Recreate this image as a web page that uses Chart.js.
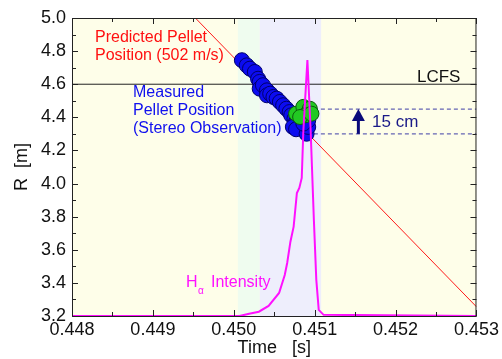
<!DOCTYPE html>
<html>
<head>
<meta charset="utf-8">
<script src="https://cdn.jsdelivr.net/npm/chart.js@4.4.1/dist/chart.umd.min.js"></script>
<style>
html,body{margin:0;padding:0;background:#fff;}
#wrap{width:502px;height:359px;}
</style>
</head>
<body>
<div id="wrap"><canvas id="c" width="502" height="359"></canvas></div>
<script>
// ---- data ----
const xTicks = [0.448, 0.449, 0.450, 0.451, 0.452, 0.453];
const yTicks = [3.2, 3.4, 3.6, 3.8, 4.0, 4.2, 4.4, 4.6, 4.8, 5.0];

const blueT = [0.45010,0.45016,0.45020,0.45026,0.45030,0.45032,0.45032,0.45036,0.45041,0.45041,0.45045,0.45049,0.45053,0.45057,0.45061,0.45065,0.45069,0.45071,0.45075,0.45077,0.45079,0.45084,0.45088,0.45073,0.45077,0.45090,0.45092,0.45092,0.45086];
const blueR = [4.745,4.714,4.694,4.674,4.633,4.614,4.573,4.594,4.563,4.533,4.543,4.523,4.513,4.493,4.473,4.452,4.432,4.412,4.392,4.372,4.352,4.332,4.322,4.342,4.328,4.301,4.342,4.382,4.362];

const greenT = [0.45077,0.45086,0.45094,0.45088,0.45082,0.45096];
const greenR = [4.422,4.463,4.452,4.412,4.402,4.422];

const haT = [0.448,0.45007,0.45019,0.45031,0.45043,0.45056,0.45063,0.45066,0.45070,0.45074,0.45078,0.45081,0.45084,0.45086,0.45091,0.45095,0.45099,0.45102,0.45105,0.45111,0.453];
const haR = [3.2,3.2,3.213,3.226,3.261,3.339,3.448,3.52,3.649,3.74,3.943,3.973,4.034,4.32,4.746,4.32,3.78,3.418,3.237,3.207,3.2];

const predT = [0.449525, 0.453];
const predR = [5.0, 3.2555];

const lcfsT = [0.448, 0.453];
const lcfsR = [4.6, 4.6];

const dashT = [0.45099, 0.453];
const dashUpperR = 4.45;
const dashLowerR = 4.30;

const arrowT = 0.45154;
const arrowFromR = 4.30;
const arrowToR = 4.45;

const bandGreen = [0.45005, 0.45032];
const bandLav = [0.45032, 0.45108];

const pts = (ts, rs) => ts.map((t, i) => ({x: t, y: rs[i]}));

// ---- plugin ----
const FONT = '"Liberation Sans", Arial, sans-serif';
const decor = {
  id: 'decor',
  beforeDatasetsDraw(chart) {
    const {ctx, chartArea: a, scales: {x, y}} = chart;
    ctx.save();
    ctx.fillStyle = '#fefee9';
    ctx.fillRect(a.left, a.top, a.right - a.left, a.bottom - a.top);
    ctx.fillStyle = '#effcef';
    let x0 = x.getPixelForValue(bandGreen[0]), x1 = x.getPixelForValue(bandGreen[1]);
    ctx.fillRect(x0, a.top, x1 - x0, a.bottom - a.top);
    ctx.fillStyle = '#eeeefc';
    x0 = x.getPixelForValue(bandLav[0]); x1 = x.getPixelForValue(bandLav[1]);
    ctx.fillRect(x0, a.top, x1 - x0, a.bottom - a.top);
    ctx.restore();
  },
  afterDatasetsDraw(chart) {
    const {ctx, chartArea: a, scales: {x, y}} = chart;
    ctx.save();
    // frame
    ctx.strokeStyle = '#222';
    ctx.lineWidth = 1;
    ctx.strokeRect(a.left + 0.5, a.top + 0.5, a.right - a.left - 1, a.bottom - a.top);
    // ticks inward
    ctx.beginPath();
    for (let v = 0.448; v <= 0.45301; v += 0.0005) {
      const px = Math.round(x.getPixelForValue(v)) + 0.5;
      const major = Math.abs(v * 1000 - Math.round(v * 1000)) < 1e-6;
      const len = major ? 6 : 4;
      ctx.moveTo(px, a.bottom); ctx.lineTo(px, a.bottom - len);
      ctx.moveTo(px, a.top); ctx.lineTo(px, a.top + len);
    }
    for (let v = 3.2; v <= 5.001; v += 0.1) {
      const py = Math.round(y.getPixelForValue(v)) + 0.5;
      const major = Math.abs(v * 5 - Math.round(v * 5)) < 1e-6;
      const len = major ? 6 : 4;
      ctx.moveTo(a.left, py); ctx.lineTo(a.left + len, py);
      ctx.moveTo(a.right, py); ctx.lineTo(a.right - len, py);
    }
    ctx.stroke();

    // arrow
    const ax = x.getPixelForValue(arrowT);
    const ay0 = y.getPixelForValue(arrowFromR);
    const ay1 = y.getPixelForValue(arrowToR);
    ctx.strokeStyle = '#0a0a7a';
    ctx.fillStyle = '#0a0a7a';
    ctx.lineWidth = 3;
    ctx.beginPath(); ctx.moveTo(ax, ay0); ctx.lineTo(ax, ay1 + 10); ctx.stroke();
    ctx.beginPath(); ctx.moveTo(ax, ay1); ctx.lineTo(ax - 6.5, ay1 + 12); ctx.lineTo(ax + 6.5, ay1 + 12); ctx.closePath(); ctx.fill();

    // texts
    ctx.textBaseline = 'middle';
    ctx.textAlign = 'left';
    ctx.font = '16px ' + FONT;
    ctx.fillStyle = '#ff1010';
    ctx.fillText('Predicted Pellet', 95, 38);
    ctx.fillText('Position (502 m/s)', 95, 56);
    ctx.fillStyle = '#1010ee';
    ctx.fillText('Measured', 133, 93);
    ctx.fillText('Pellet Position', 133, 111);
    ctx.fillText('(Stereo Observation)', 133, 129);
    ctx.fillStyle = '#111';
    ctx.font = '17px ' + FONT;
    ctx.fillText('LCFS', 417, 77);
    ctx.fillStyle = '#1a1a88';
    ctx.fillText('15 cm', 372, 122);
    ctx.fillStyle = '#ff10ff';
    ctx.font = '16px ' + FONT;
    ctx.fillText('H', 186, 283);
    ctx.font = '10px ' + FONT;
    ctx.fillText('\u03b1', 198, 291);
    ctx.font = '16px ' + FONT;
    ctx.fillText('Intensity', 211, 283);
    ctx.restore();
  }
};

const lineDs = (data, color, width, order, extra) => Object.assign({
  data, showLine: true, borderColor: color, borderWidth: width, pointRadius: 0,
  pointHoverRadius: 0, fill: false, tension: 0, order
}, extra || {});

new Chart(document.getElementById('c'), {
  type: 'scatter',
  data: {
    datasets: [
      lineDs(pts(haT, haR), '#ff10ff', 2, 0),
      {data: pts(greenT, greenR), backgroundColor: '#22c822', borderColor: '#0b5a0b', borderWidth: 1, pointRadius: 7.5, order: 1},
      {data: pts(blueT, blueR), backgroundColor: '#0c0cf0', borderColor: '#00006a', borderWidth: 1, pointRadius: 7.5, order: 2},
      lineDs(pts(predT, predR), '#ff1a1a', 1, 3),
      lineDs(pts(lcfsT, lcfsR), '#222', 1, 4),
      lineDs(pts(dashT, [dashUpperR, dashUpperR]), '#6464b4', 1.2, 5, {borderDash: [4, 3]}),
      lineDs(pts(dashT, [dashLowerR, dashLowerR]), '#6464b4', 1.2, 5, {borderDash: [4, 3]})
    ]
  },
  options: {
    responsive: false,
    animation: false,
    events: [],
    layout: {padding: {top: 18, right: 23, left: 0, bottom: 0}},
    plugins: {legend: {display: false}, tooltip: {enabled: false}},
    scales: {
      x: {
        type: 'linear', min: 0.448, max: 0.453,
        afterBuildTicks: s => { s.ticks = xTicks.map(v => ({value: v})); },
        afterFit: s => { s.height = 43; },
        grid: {display: false, drawTicks: false},
        border: {display: false},
        ticks: {color: '#111', font: {family: FONT, size: 18}, padding: 3,
          callback: v => Number(v).toFixed(3), maxRotation: 0, autoSkip: false},
        title: {display: true, text: 'Time   [s]', color: '#111', font: {family: FONT, size: 18}, padding: {top: 0, bottom: 0}}
      },
      y: {
        type: 'linear', min: 3.2, max: 5.0,
        afterBuildTicks: s => { s.ticks = yTicks.map(v => ({value: v})); },
        afterFit: s => { s.width = 72; },
        grid: {display: false, drawTicks: false},
        border: {display: false},
        ticks: {color: '#111', font: {family: FONT, size: 18}, padding: 6,
          callback: v => Number(v).toFixed(1), autoSkip: false},
        title: {display: true, text: 'R  [m]', color: '#111', font: {family: FONT, size: 18}, padding: {top: 11, bottom: 0}}
      }
    }
  },
  plugins: [decor]
});
</script>
</body>
</html>
